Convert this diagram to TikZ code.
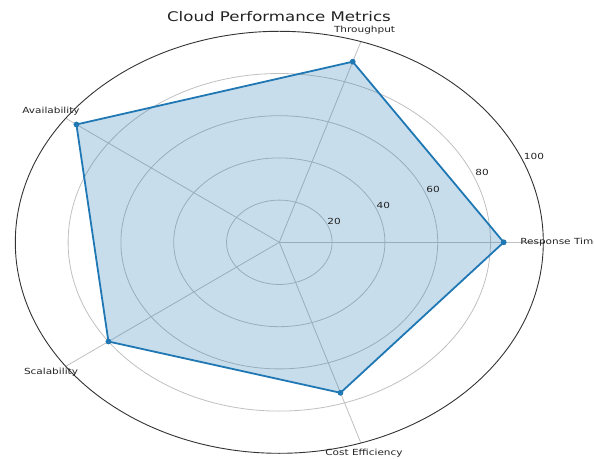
\documentclass[tikz,border=0pt]{standalone}
\usepackage{fontspec}
\setmainfont{DejaVu Sans}
\definecolor{mplblue}{HTML}{1F77B4}
\definecolor{gridgray}{HTML}{C0C0C0}
\definecolor{txt}{HTML}{222222}
\begin{document}
\begin{tikzpicture}[x=1pt,y=1pt,
  grid/.style={draw=gridgray, line width=0.8pt},
  spine/.style={draw=black!80, line width=0.9pt},
  dataline/.style={draw=mplblue, line width=1.8pt, line join=round},
  datafill/.style={fill=mplblue, fill opacity=0.25},
  marker/.style={circle, fill=mplblue, inner sep=0pt, minimum size=5.5pt},
  lab/.style={font=\fontsize{8.4}{9}\selectfont, text=txt, xscale=1.25, inner sep=0pt},
  ttl/.style={font=\fontsize{13.3}{15}\selectfont, text=txt, xscale=1.25, inner sep=0pt}]
\useasboundingbox (0,0) rectangle (594,458);
\begin{scope}[shift={(279.3,215.7)}, x=264pt, y=211pt]
  \coordinate (c) at (0,0);
  % rings
  \foreach \r in {0.2,0.4,0.6,0.8} \draw[grid] (c) ellipse ({\r} and {\r});
  % spokes
  \foreach \a/\n in {0/s0,72/s1,144/s2,216/s3,288/s4} {
    \coordinate (\n) at (\a:1);
    \draw[grid] (c) -- (\n);
  }
  % outer spine
  \draw[spine] (c) ellipse (1 and 1);
  % data
  \node[marker] (p0) at (0:0.85) {};
  \node[marker] (p1) at (72:0.90) {};
  \node[marker] (p2) at (144:0.95) {};
  \node[marker] (p3) at (216:0.80) {};
  \node[marker] (p4) at (288:0.75) {};
  \fill[datafill] (p0.center) -- (p1.center) -- (p2.center) -- (p3.center) -- (p4.center) -- cycle;
  \draw[dataline] (p0.center) -- (p1.center) -- (p2.center) -- (p3.center) -- (p4.center) -- cycle;
  \node[marker] at (p0) {};
  \node[marker] at (p1) {};
  \node[marker] at (p2) {};
  \node[marker] at (p3) {};
  \node[marker] at (p4) {};
\end{scope}
% tick labels
\node[lab] (t20) at (334,237) {20};
\node[lab] (t40) at (383.3,253) {40};
\node[lab] (t60) at (433,269) {60};
\node[lab] (t80) at (482,285.3) {80};
\node[lab] (t100) at (534,301.3) {100};
% category labels
\node[lab, anchor=west] (lrt) at (520,215.7) {Response Time};
\node[lab] (lth) at (364.5,428) {Throughput};
\node[lab] (lav) at (51,347) {Availability};
\node[lab] (lsc) at (51,86) {Scalability};
\node[lab] (lce) at (364,5) {Cost Efficiency};
% title
\node[ttl] (title) at (279,441) {Cloud Performance Metrics};
\end{tikzpicture}
\end{document}
